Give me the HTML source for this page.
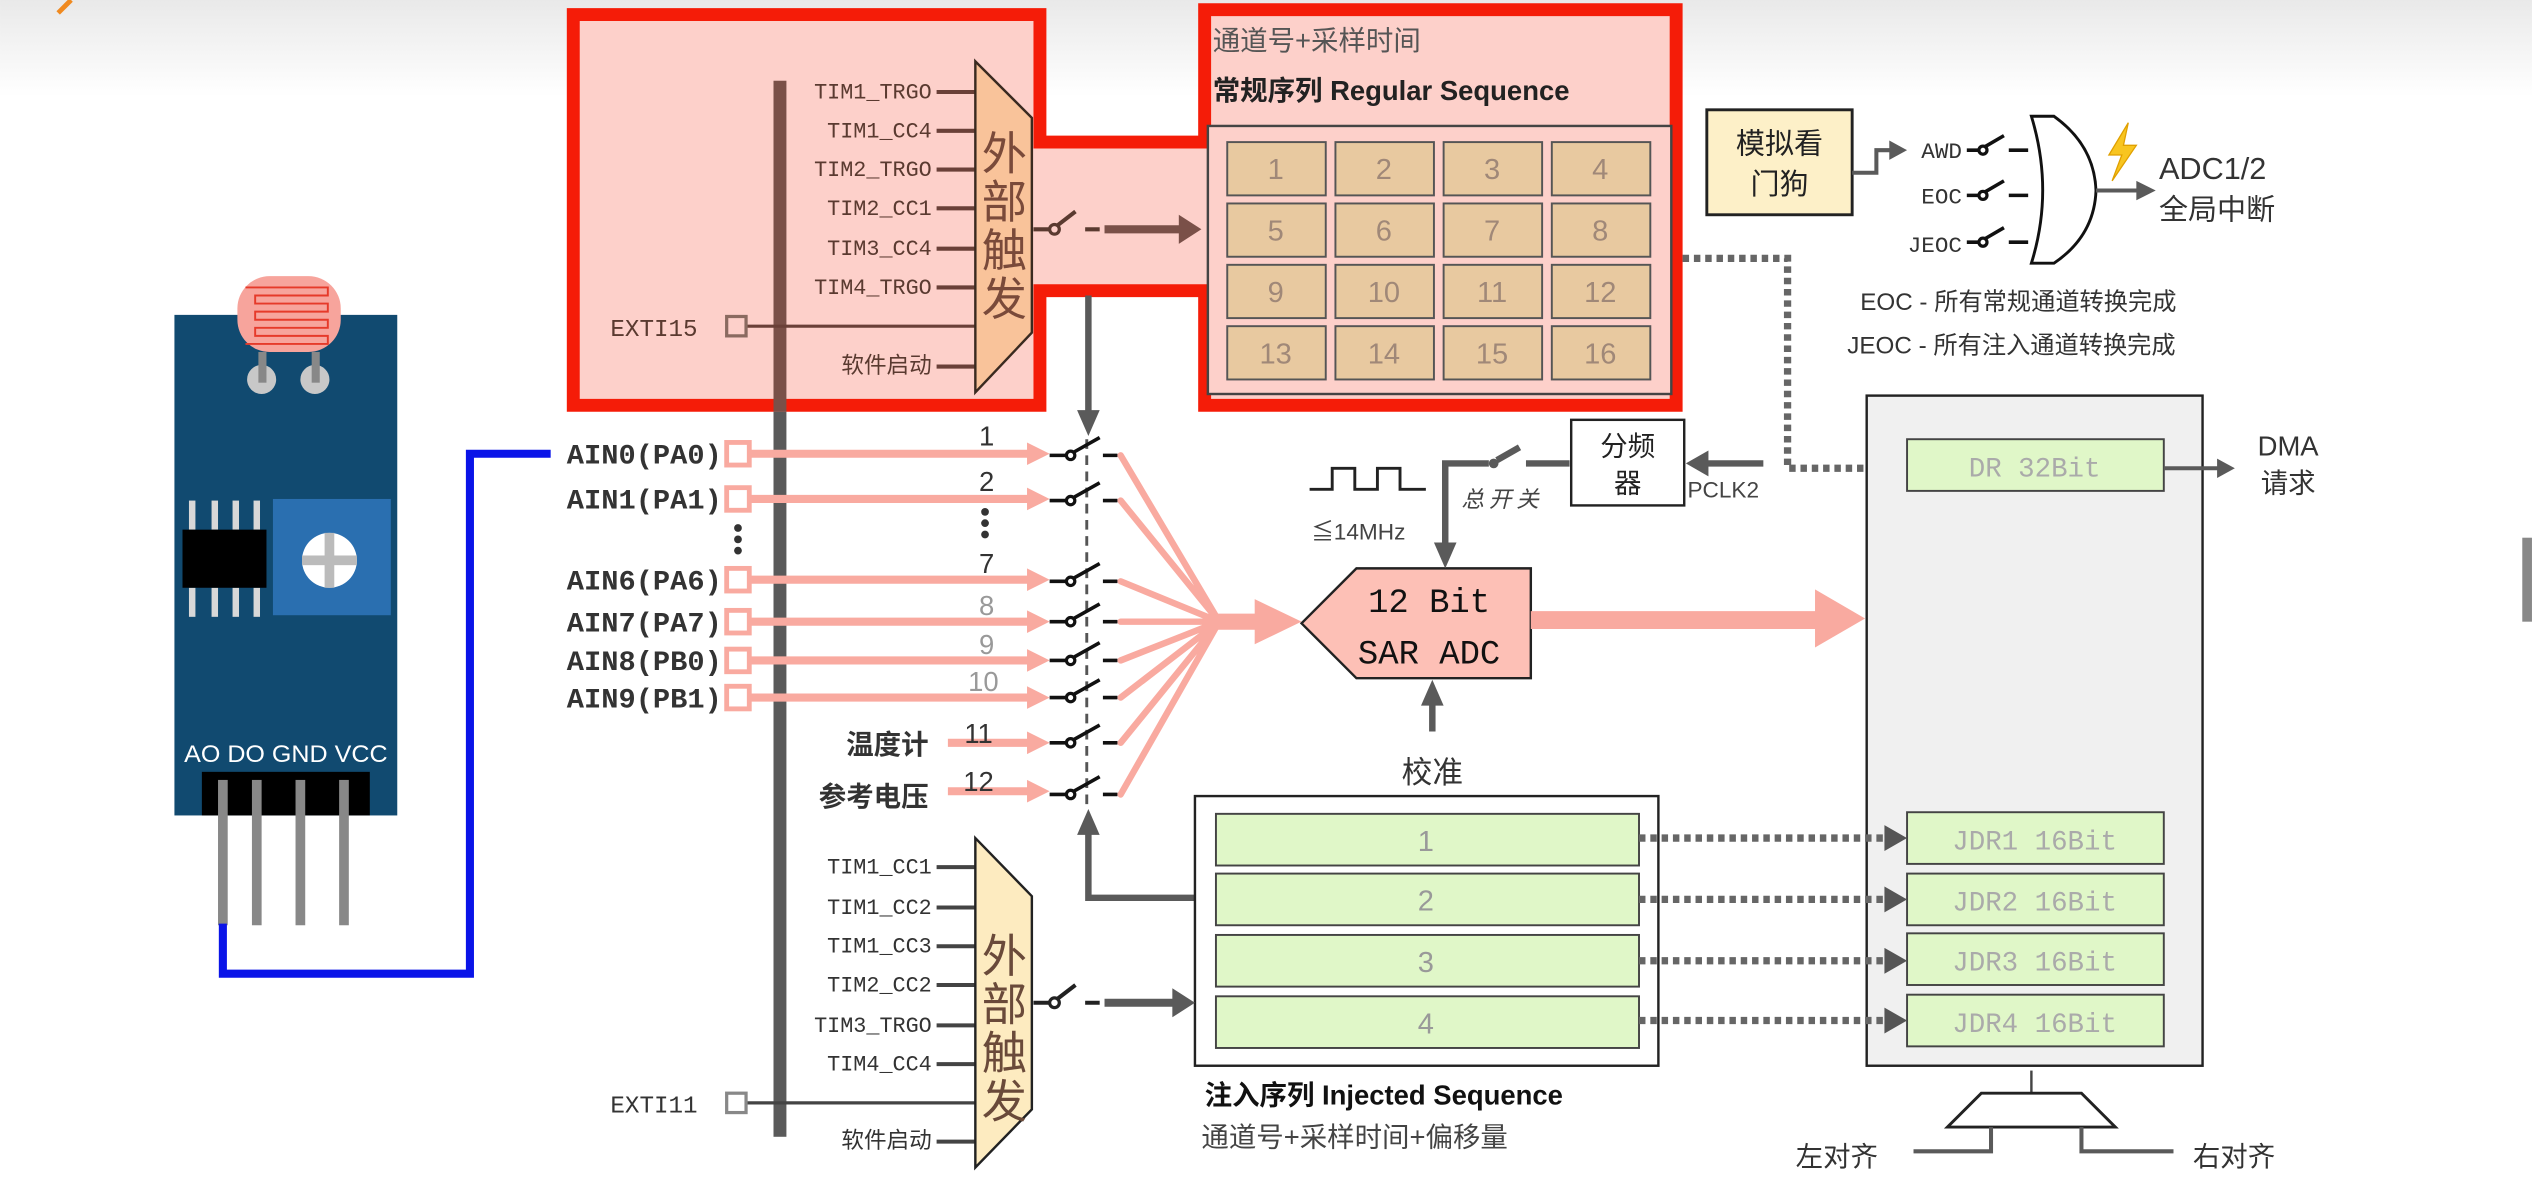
<!DOCTYPE html>
<html><head><meta charset="utf-8"><style>
html,body{margin:0;padding:0;background:#fff;width:2532px;height:1182px;overflow:hidden}
svg{display:block}
text{font-family:"Liberation Sans","Noto Sans CJK SC",sans-serif}
text.m,.m text{font-family:"Liberation Mono","Noto Sans CJK SC",monospace}
</style></head><body>
<svg width="2532" height="1182" viewBox="0 0 1568 732" xmlns="http://www.w3.org/2000/svg">
<defs>
<linearGradient id="g" x1="0" y1="0" x2="0" y2="1"><stop offset="0" stop-color="#e9e9e9"/><stop offset="1" stop-color="#fff"/></linearGradient>
</defs>
<rect width="1568" height="60" fill="url(#g)"/>
<path d="M36 8 L44 0" stroke="#f08a20" stroke-width="3"/>
<rect x="1562" y="333" width="6" height="52" fill="#888"/>

<!-- sensor module -->
<rect x="108" y="195" width="138" height="310" fill="#114a70"/>
<rect x="147" y="171" width="64" height="47" rx="20" fill="#f7a49c"/>
<path d="M152 178 H203 V183 H158 V188 H203 V193 H158 V198 H203 V203 H158 V208 H203 V213 H152" fill="none" stroke="#e63a2a" stroke-width="1.2"/>
<circle cx="162" cy="235" r="9" fill="#c8c8c8"/><circle cx="195" cy="235" r="9" fill="#c8c8c8"/>
<rect x="160" y="218" width="5" height="19" fill="#888"/><rect x="193" y="218" width="5" height="19" fill="#888"/>
<g fill="#d8d8d8"><rect x="117" y="310" width="4" height="18"/><rect x="131" y="310" width="4" height="18"/><rect x="144" y="310" width="4" height="18"/><rect x="157" y="310" width="4" height="18"/>
<rect x="117" y="364" width="4" height="18"/><rect x="131" y="364" width="4" height="18"/><rect x="144" y="364" width="4" height="18"/><rect x="157" y="364" width="4" height="18"/></g>
<rect x="113" y="328" width="52" height="36" fill="#000"/>
<rect x="169" y="309" width="73" height="72" fill="#2a6fb0"/>
<circle cx="204" cy="347" r="17" fill="#fff"/>
<rect x="201" y="330" width="6" height="34" fill="#bbb"/><rect x="187" y="344" width="34" height="6" fill="#bbb"/>
<text x="177" y="472" font-size="15" fill="#fff" text-anchor="middle" textLength="126" lengthAdjust="spacingAndGlyphs">AO DO GND VCC</text>
<rect x="125" y="478" width="104" height="27" fill="#000"/>
<g fill="#888"><rect x="135" y="483" width="6" height="90"/><rect x="156" y="483" width="6" height="90"/><rect x="183" y="483" width="6" height="90"/><rect x="210" y="483" width="6" height="90"/></g>
<path d="M138 572 V603 H291 V281 H341" fill="none" stroke="#0a14e8" stroke-width="5"/>

<!-- regular red region -->
<path d="M355 9 H644 V88 H746 V6 H1038 V251 H746 V180 H644 V251 H355 Z" fill="#fdd0ca" stroke="#f51c08" stroke-width="8"/>
<text x="751" y="31" font-size="17" fill="#555">通道号+采样时间</text>
<text x="751" y="62" font-size="17" font-weight="bold" fill="#222">常规序列 Regular Sequence</text>
<rect x="748" y="78" width="287" height="166" fill="#fdd0ca" stroke="#444" stroke-width="1.5"/>
<g fill="#e8c9a0" stroke="#555" stroke-width="1.2">
<rect x="760" y="88" width="61" height="33"/><rect x="827" y="88" width="61" height="33"/><rect x="894" y="88" width="61" height="33"/><rect x="961" y="88" width="61" height="33"/>
<rect x="760" y="126" width="61" height="33"/><rect x="827" y="126" width="61" height="33"/><rect x="894" y="126" width="61" height="33"/><rect x="961" y="126" width="61" height="33"/>
<rect x="760" y="164" width="61" height="33"/><rect x="827" y="164" width="61" height="33"/><rect x="894" y="164" width="61" height="33"/><rect x="961" y="164" width="61" height="33"/>
<rect x="760" y="202" width="61" height="33"/><rect x="827" y="202" width="61" height="33"/><rect x="894" y="202" width="61" height="33"/><rect x="961" y="202" width="61" height="33"/>
</g>
<g font-size="18" fill="#a08878" text-anchor="middle">
<text x="790" y="111">1</text><text x="857" y="111">2</text><text x="924" y="111">3</text><text x="991" y="111">4</text>
<text x="790" y="149">5</text><text x="857" y="149">6</text><text x="924" y="149">7</text><text x="991" y="149">8</text>
<text x="790" y="187">9</text><text x="857" y="187">10</text><text x="924" y="187">11</text><text x="991" y="187">12</text>
<text x="790" y="225">13</text><text x="857" y="225">14</text><text x="924" y="225">15</text><text x="991" y="225">16</text>
</g>

<!-- bus bar -->
<rect x="479" y="50" width="8" height="205" fill="#7a5048"/>
<rect x="479" y="255" width="8" height="449" fill="#5a5a5a"/>

<!-- upper trigger mux -->
<g class="m" font-size="13.5" fill="#5a3a30" text-anchor="end">
<text x="577" y="61">TIM1_TRGO</text><text x="577" y="85">TIM1_CC4</text><text x="577" y="109">TIM2_TRGO</text>
<text x="577" y="133">TIM2_CC1</text><text x="577" y="158">TIM3_CC4</text><text x="577" y="182">TIM4_TRGO</text>
<text x="432" y="208" font-size="15">EXTI15</text><text x="577" y="231" font-size="14">软件启动</text>
</g>
<g stroke="#6a4038" stroke-width="2.5">
<path d="M580 57H604M580 81H604M580 105H604M580 129H604M580 154H604M580 178H604M580 227H604"/>
<path d="M462 202H604" stroke-width="2"/>
</g>
<rect x="450" y="196" width="12" height="12" fill="none" stroke="#8a6a60" stroke-width="2"/>
<path d="M604 38 L639 73 V206 L604 243 Z" fill="#f9c39a" stroke="#3a2a20" stroke-width="1.5"/>
<g font-size="28" fill="#7a4a3a" text-anchor="middle"><text x="622" y="105">外</text><text x="622" y="135">部</text><text x="622" y="165">触</text><text x="622" y="195">发</text></g>
<path d="M640 142 H651 M653 141 L666 131 M672 142 H681" stroke="#5a3a30" stroke-width="2.5" fill="none"/>
<circle cx="653" cy="142" r="3" fill="#fdd0ca" stroke="#5a3a30" stroke-width="2"/>
<path d="M684 142 H732" stroke="#7a5048" stroke-width="5"/><path d="M730 133 L744 142 L730 151 Z" fill="#7a5048"/>
<path d="M674 183 V258" stroke="#5a5a5a" stroke-width="4"/><path d="M667 254 L674 270 L681 254 Z" fill="#5a5a5a"/>

<!-- analog inputs -->
<g class="m" font-size="17" font-weight="bold" fill="#333">
<text x="351" y="287" textLength="96" lengthAdjust="spacingAndGlyphs">AIN0(PA0)</text>
<text x="351" y="315" textLength="96" lengthAdjust="spacingAndGlyphs">AIN1(PA1)</text>
<text x="351" y="365" textLength="96" lengthAdjust="spacingAndGlyphs">AIN6(PA6)</text>
<text x="351" y="391" textLength="96" lengthAdjust="spacingAndGlyphs">AIN7(PA7)</text>
<text x="351" y="415" textLength="96" lengthAdjust="spacingAndGlyphs">AIN8(PB0)</text>
<text x="351" y="438" textLength="96" lengthAdjust="spacingAndGlyphs">AIN9(PB1)</text>
</g>
<g fill="#333"><circle cx="457" cy="327" r="2.4"/><circle cx="457" cy="334" r="2.4"/><circle cx="457" cy="341" r="2.4"/>
<circle cx="610" cy="317" r="2.4"/><circle cx="610" cy="324" r="2.4"/><circle cx="610" cy="331" r="2.4"/></g>
<g fill="none" stroke="#f9aaa0" stroke-width="3">
<rect x="450" y="274" width="14" height="14"/><rect x="450" y="302" width="14" height="14"/><rect x="450" y="352" width="14" height="14"/>
<rect x="450" y="378" width="14" height="14"/><rect x="450" y="402" width="14" height="14"/><rect x="450" y="425" width="14" height="14"/>
</g>
<g stroke="#f9aaa0" stroke-width="5">
<path d="M465 281H638M465 309H638M465 359H638M465 385H638M465 409H638M465 432H638M587 460H638M587 490H638"/>
</g>
<g fill="#f9aaa0">
<path d="M636 274 L650 281 L636 288Z"/><path d="M636 302 L650 309 L636 316Z"/><path d="M636 352 L650 359 L636 366Z"/>
<path d="M636 378 L650 385 L636 392Z"/><path d="M636 402 L650 409 L636 416Z"/><path d="M636 425 L650 432 L636 439Z"/>
<path d="M636 453 L650 460 L636 467Z"/><path d="M636 483 L650 490 L636 497Z"/>
</g>
<g font-size="17" text-anchor="middle">
<text x="611" y="276" fill="#333">1</text><text x="611" y="304" fill="#333">2</text><text x="611" y="355" fill="#333">7</text>
<text x="611" y="381" fill="#999">8</text><text x="611" y="405" fill="#999">9</text><text x="609" y="428" fill="#999">10</text>
<text x="606" y="460" fill="#333">11</text><text x="606" y="490" fill="#333">12</text>
</g>
<text x="575" y="467" font-size="17" font-weight="bold" fill="#333" text-anchor="end">温度计</text>
<text x="575" y="499" font-size="17" font-weight="bold" fill="#333" text-anchor="end">参考电压</text>

<!-- switches -->
<path d="M673 272 V500" stroke="#555" stroke-width="1.8" stroke-dasharray="6,4"/>
<g stroke="#111" stroke-width="2.2" fill="none">
<path d="M650 282H661M665 280L681 271M683 282H692"/>
<path d="M650 310H661M665 308L681 299M683 310H692"/>
<path d="M650 360H661M665 358L681 349M683 360H692"/>
<path d="M650 385H661M665 383L681 374M683 385H692"/>
<path d="M650 409H661M665 407L681 398M683 409H692"/>
<path d="M650 432H661M665 430L681 421M683 432H692"/>
<path d="M650 460H661M665 458L681 449M683 460H692"/>
<path d="M650 492H661M665 490L681 481M683 492H692"/>
</g>
<g fill="#fff" stroke="#111" stroke-width="2">
<circle cx="663" cy="282" r="2.6"/><circle cx="663" cy="310" r="2.6"/><circle cx="663" cy="360" r="2.6"/><circle cx="663" cy="385" r="2.6"/>
<circle cx="663" cy="409" r="2.6"/><circle cx="663" cy="432" r="2.6"/><circle cx="663" cy="460" r="2.6"/><circle cx="663" cy="492" r="2.6"/>
</g>
<g stroke="#f9aaa0" stroke-width="4" stroke-linecap="round">
<path d="M694 282L755 385M694 310L755 385M694 360L755 385M694 385L755 385M694 409L755 385M694 432L755 385M694 460L755 385M694 492L755 385"/>
</g>
<path d="M752 385H780" stroke="#f9aaa0" stroke-width="10"/><path d="M777 371 L806 385 L777 399Z" fill="#f9aaa0"/>
<path d="M740 556 H674 V514" stroke="#5a5a5a" stroke-width="4" fill="none"/><path d="M667 517 L674 501 L681 517Z" fill="#5a5a5a"/>

<!-- ADC -->
<path d="M806 386 L840 352 H948 V420 H840 Z" fill="#fdc0b6" stroke="#222" stroke-width="1.5"/>
<text class="m" x="885" y="379" font-size="21" fill="#111" text-anchor="middle">12 Bit</text>
<text class="m" x="885" y="411" font-size="21" fill="#111" text-anchor="middle">SAR ADC</text>
<path d="M948 384 H1128" stroke="#f9aaa0" stroke-width="11"/><path d="M1124 365 L1155 383 L1124 401Z" fill="#f9aaa0"/>
<path d="M887 453 V433" stroke="#5a5a5a" stroke-width="4"/><path d="M880 437 L887 421 L894 437Z" fill="#5a5a5a"/>
<text x="887" y="485" font-size="19" fill="#333" text-anchor="middle">校准</text>

<!-- clock -->
<path d="M811 303 H825 V290 H839 V303 H853 V290 H867 V303 H883" fill="none" stroke="#222" stroke-width="1.8"/>
<text x="812" y="334" font-size="14" fill="#444">≦14MHz</text>
<path d="M895 338 V287 H922 M927 285 L941 277 M945 287 H972" stroke="#5a5a5a" stroke-width="4" fill="none"/>
<circle cx="925" cy="287" r="3" fill="#5a5a5a"/>
<path d="M888 336 L895 352 L902 336Z" fill="#5a5a5a"/>
<text x="905" y="314" font-size="14" fill="#444" font-style="italic" letter-spacing="3">总开关</text>
<rect x="973" y="260" width="70" height="53" fill="#fff" stroke="#222" stroke-width="1.5"/>
<text x="1008" y="282" font-size="17" fill="#222" text-anchor="middle">分频</text>
<text x="1008" y="305" font-size="17" fill="#222" text-anchor="middle">器</text>
<path d="M1092 287 H1056" stroke="#5a5a5a" stroke-width="4"/><path d="M1058 279 L1044 287 L1058 295Z" fill="#5a5a5a"/>
<text x="1045" y="308" font-size="14" fill="#444">PCLK2</text>

<!-- dotted -->
<path d="M1042 160 H1107 V290 H1166" fill="none" stroke="#666" stroke-width="4.5" stroke-dasharray="4,3"/>
<path d="M1166 282 L1180 290 L1166 298Z" fill="#555"/>

<!-- register file -->
<rect x="1156" y="245" width="208" height="415" fill="#f0f0f0" stroke="#222" stroke-width="1.5"/>
<rect x="1181" y="272" width="159" height="32" fill="#e0f7c8" stroke="#444" stroke-width="1.2"/>
<text class="m" x="1260" y="295" font-size="17" fill="#aaa" text-anchor="middle">DR 32Bit</text>
<path d="M1340 290 H1375" stroke="#5a5a5a" stroke-width="2.5"/><path d="M1373 284 L1384 290 L1373 296Z" fill="#5a5a5a"/>
<text x="1417" y="282" font-size="17" fill="#333" text-anchor="middle">DMA</text>
<text x="1417" y="305" font-size="17" fill="#333" text-anchor="middle">请求</text>
<g fill="#e0f7c8" stroke="#444" stroke-width="1.2">
<rect x="1181" y="503" width="159" height="32"/><rect x="1181" y="541" width="159" height="32"/><rect x="1181" y="578" width="159" height="32"/><rect x="1181" y="616" width="159" height="32"/>
</g>
<g class="m" font-size="17" fill="#aaa" text-anchor="middle">
<text x="1260" y="526">JDR1 16Bit</text><text x="1260" y="564">JDR2 16Bit</text><text x="1260" y="601">JDR3 16Bit</text><text x="1260" y="639">JDR4 16Bit</text>
</g>

<!-- injected -->
<rect x="740" y="493" width="287" height="167" fill="#fff" stroke="#222" stroke-width="1.5"/>
<g fill="#e0f7c8" stroke="#444" stroke-width="1.2">
<rect x="753" y="504" width="262" height="32"/><rect x="753" y="541" width="262" height="32"/><rect x="753" y="579" width="262" height="32"/><rect x="753" y="617" width="262" height="32"/>
</g>
<g font-size="18" fill="#999" text-anchor="middle">
<text x="883" y="527">1</text><text x="883" y="564">2</text><text x="883" y="602">3</text><text x="883" y="640">4</text>
</g>
<g stroke="#666" stroke-width="4.5" stroke-dasharray="4,3">
<path d="M1015 519H1168M1015 557H1168M1015 595H1168M1015 632H1168"/>
</g>
<g fill="#555"><path d="M1167 511L1181 519L1167 527Z"/><path d="M1167 549L1181 557L1167 565Z"/><path d="M1167 587L1181 595L1167 603Z"/><path d="M1167 624L1181 632L1167 640Z"/></g>
<text x="746" y="684" font-size="17" font-weight="bold" fill="#111">注入序列 Injected Sequence</text>
<text x="744" y="710" font-size="17" fill="#444">通道号+采样时间+偏移量</text>

<!-- lower mux -->
<g class="m" font-size="13.5" fill="#333" text-anchor="end">
<text x="577" y="541">TIM1_CC1</text><text x="577" y="566">TIM1_CC2</text><text x="577" y="590">TIM1_CC3</text>
<text x="577" y="614">TIM2_CC2</text><text x="577" y="639">TIM3_TRGO</text><text x="577" y="663">TIM4_CC4</text>
<text x="432" y="689" font-size="15">EXTI11</text><text x="577" y="711" font-size="14">软件启动</text>
</g>
<g stroke="#444" stroke-width="2.5">
<path d="M580 537H604M580 562H604M580 586H604M580 610H604M580 635H604M580 659H604M580 707H604"/>
<path d="M462 683H604" stroke-width="2"/>
</g>
<rect x="450" y="677" width="12" height="12" fill="none" stroke="#888" stroke-width="2"/>
<path d="M604 519 L639 555 V687 L604 723 Z" fill="#fdebc0" stroke="#222" stroke-width="1.5"/>
<g font-size="28" fill="#6a4a3a" text-anchor="middle"><text x="622" y="602">外</text><text x="622" y="632">部</text><text x="622" y="662">触</text><text x="622" y="692">发</text></g>
<path d="M640 621 H651 M653 620 L666 610 M672 621 H681" stroke="#222" stroke-width="2.5" fill="none"/>
<circle cx="653" cy="621" r="3" fill="#fff" stroke="#222" stroke-width="2"/>
<path d="M684 621 H728" stroke="#5a5a5a" stroke-width="5"/><path d="M726 612 L740 621 L726 630 Z" fill="#5a5a5a"/>

<!-- align mux -->
<path d="M1258 663 V677" stroke="#444" stroke-width="1.5"/>
<path d="M1227 677 H1289 L1310 698 H1206 Z" fill="#fff" stroke="#222" stroke-width="1.8"/>
<path d="M1233 698 V713 H1185 M1289 698 V713 H1346" fill="none" stroke="#5a5a5a" stroke-width="2.5"/>
<text x="1112" y="722" font-size="17" fill="#333">左对齐</text>
<text x="1358" y="722" font-size="17" fill="#333">右对齐</text>

<!-- watchdog / interrupt -->
<rect x="1057" y="68" width="90" height="65" fill="#fdf0c8" stroke="#222" stroke-width="1.8"/>
<text x="1102" y="95" font-size="18" fill="#222" text-anchor="middle">模拟看</text>
<text x="1102" y="120" font-size="18" fill="#222" text-anchor="middle">门狗</text>
<path d="M1147 107 H1162 V93 H1172" fill="none" stroke="#5a5a5a" stroke-width="2.5"/><path d="M1170 87 L1181 93 L1170 99Z" fill="#5a5a5a"/>
<g class="m" font-size="14" fill="#333" text-anchor="end"><text x="1215" y="98">AWD</text><text x="1215" y="126">EOC</text><text x="1215" y="156">JEOC</text></g>
<g stroke="#111" stroke-width="2.2" fill="none">
<path d="M1218 93H1226M1229 91L1241 84M1244 93H1256"/>
<path d="M1218 121H1226M1229 119L1241 112M1244 121H1256"/>
<path d="M1218 150H1226M1229 148L1241 141M1244 150H1256"/>
</g>
<g fill="#fff" stroke="#111" stroke-width="2"><circle cx="1228" cy="93" r="2.5"/><circle cx="1228" cy="121" r="2.5"/><circle cx="1228" cy="150" r="2.5"/></g>
<path d="M1258 72 H1272 Q1297 90 1298 118 Q1297 146 1272 163 H1258 Q1272 118 1258 72 Z" fill="#fff" stroke="#111" stroke-width="1.8"/>
<path d="M1298 118 H1325" stroke="#5a5a5a" stroke-width="2.5"/><path d="M1323 112 L1335 118 L1323 124Z" fill="#5a5a5a"/>
<path d="M1318 76 L1306 96 L1314 96 L1308 112 L1323 90 L1315 90 Z" fill="#f8c520" stroke="#e0a000" stroke-width="0.8"/>
<text x="1337" y="111" font-size="19" fill="#333">ADC1/2</text>
<text x="1337" y="136" font-size="18" fill="#333">全局中断</text>
<text x="1152" y="192" font-size="15" fill="#333">EOC - 所有常规通道转换完成</text>
<text x="1144" y="219" font-size="15" fill="#333">JEOC - 所有注入通道转换完成</text>
</svg>
</body></html>
